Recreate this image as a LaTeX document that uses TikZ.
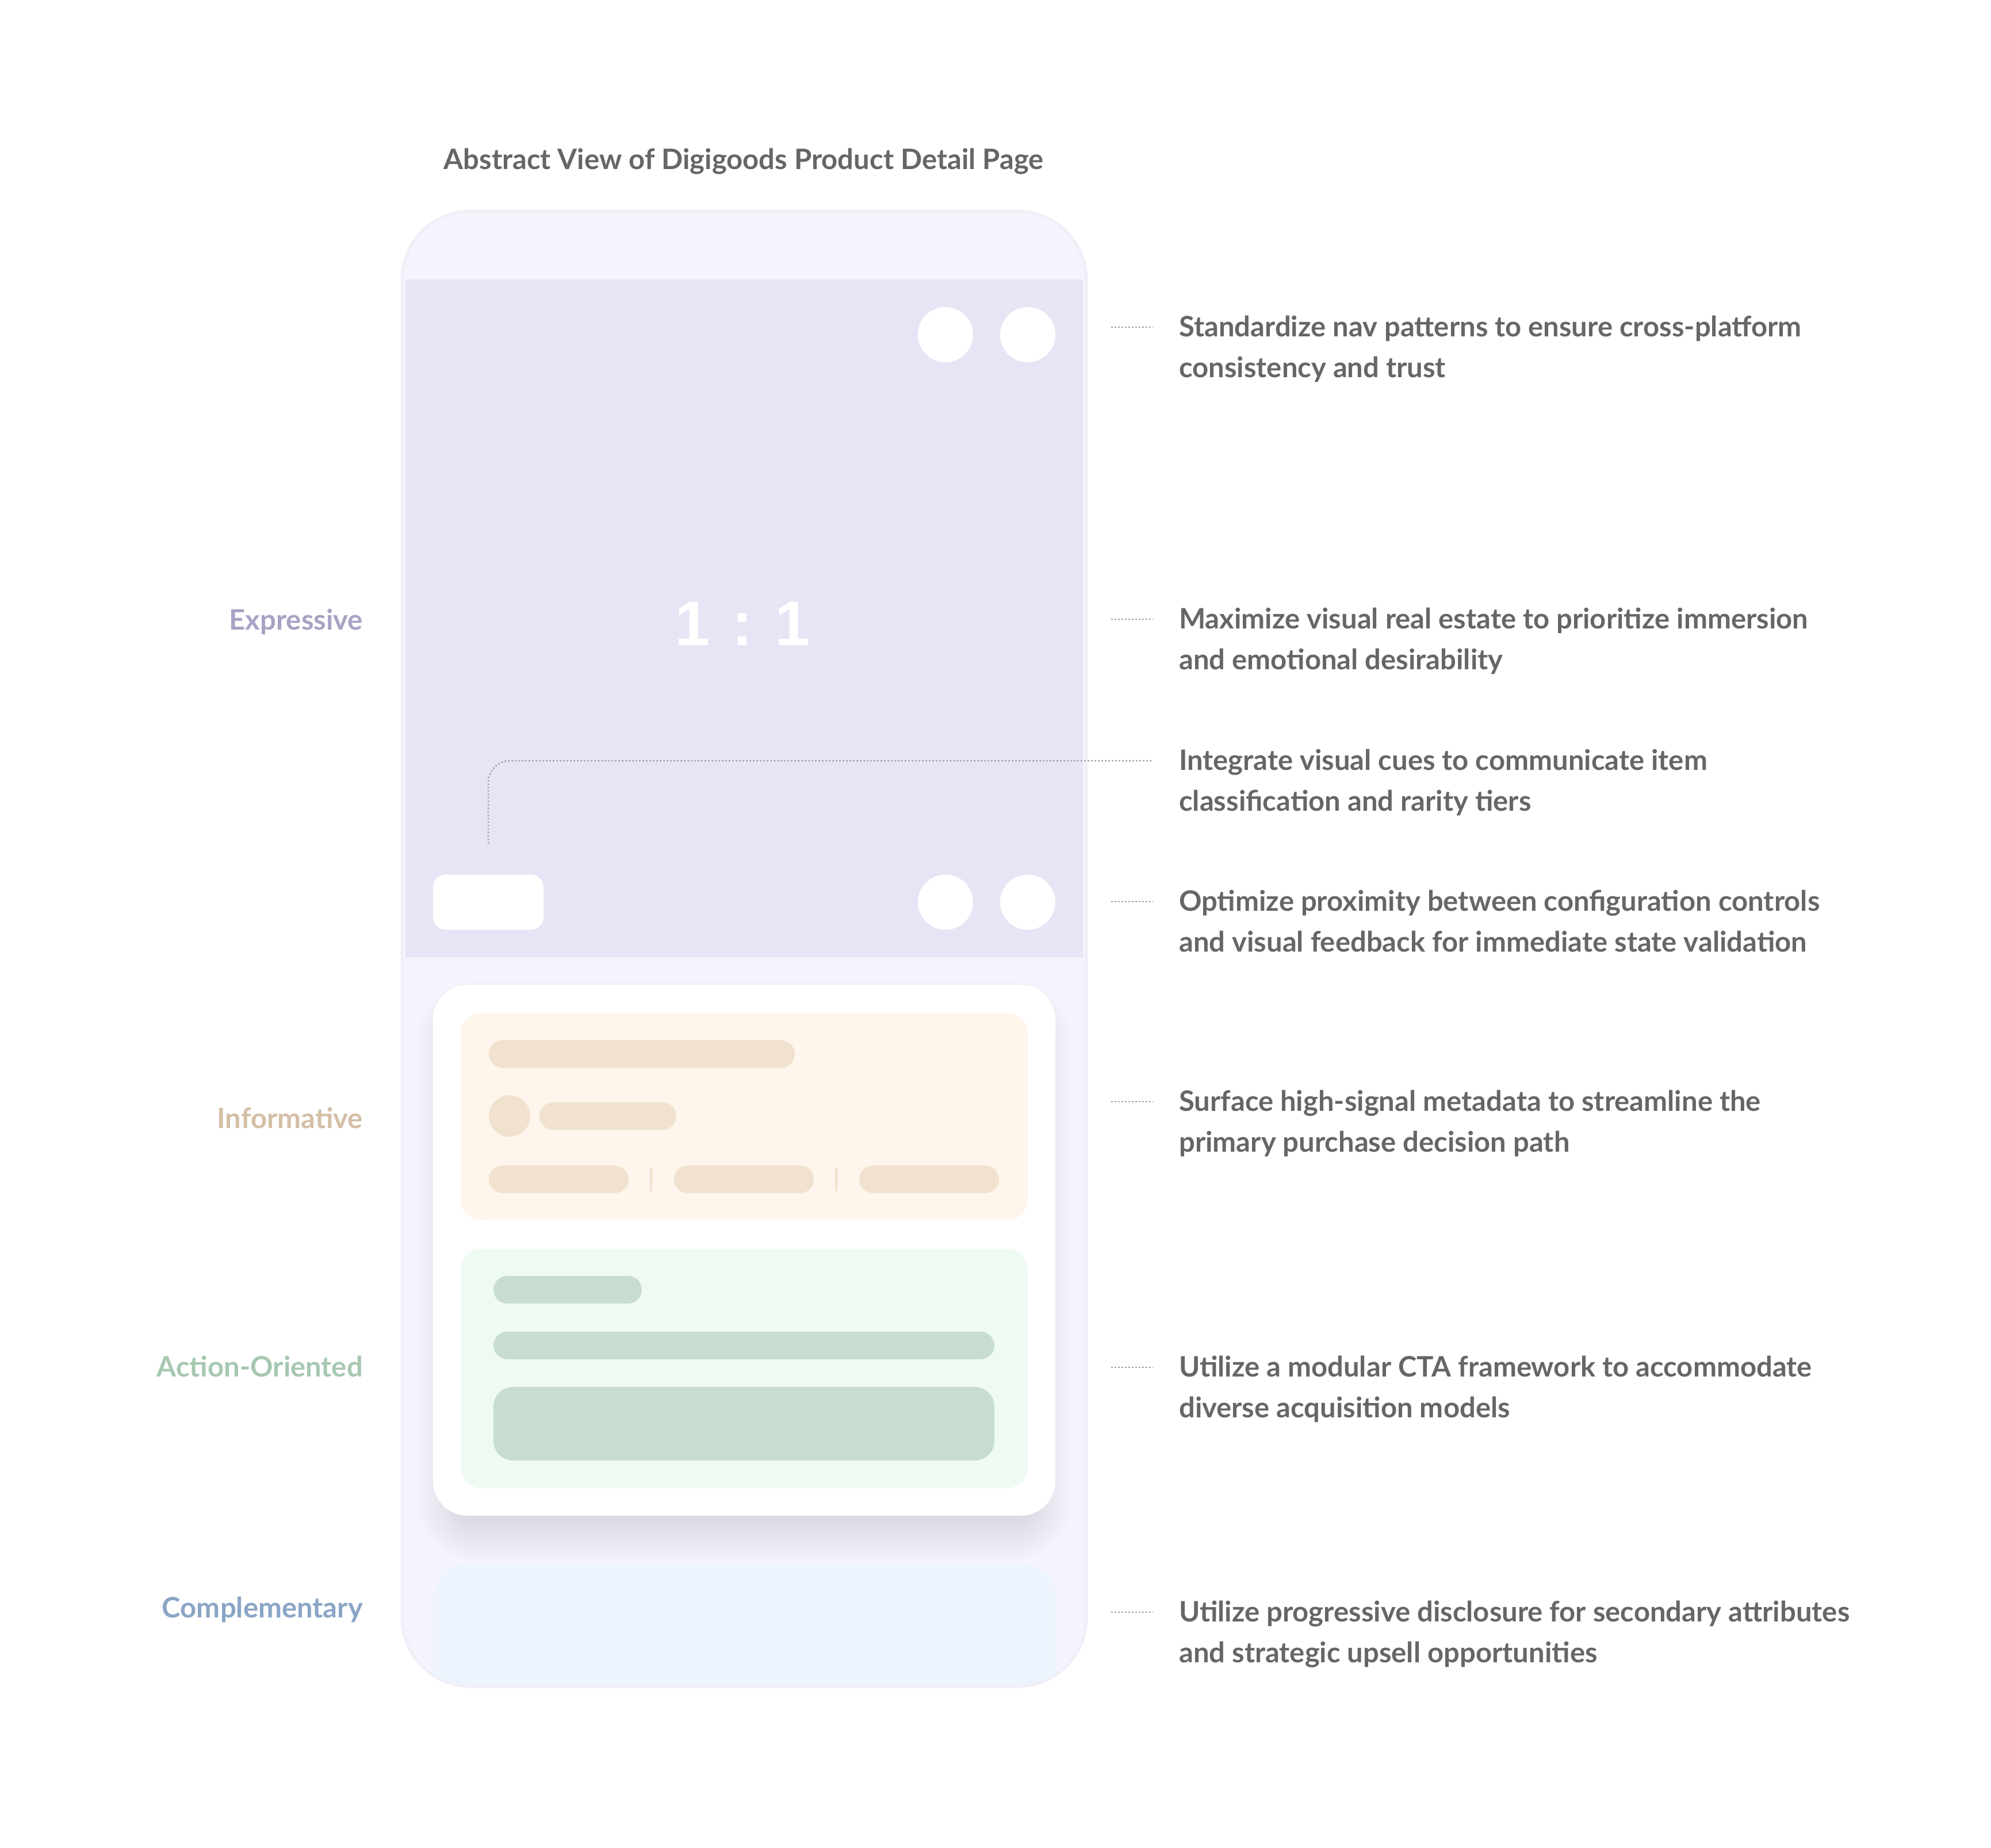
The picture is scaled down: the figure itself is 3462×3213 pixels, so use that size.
\documentclass[tikz,border=0pt]{standalone}
\usepackage{fontspec}
\setmainfont{Lato}
\newfontfamily\numfont{Liberation Sans}
\definecolor{txtgray}{HTML}{666666}
\definecolor{leadgray}{HTML}{9E9EA4}
\definecolor{phonebg}{HTML}{F5F4FD}
\definecolor{phoneline}{HTML}{F0EFF9}
\definecolor{hero}{HTML}{E7E4F5}
\definecolor{orpanel}{HTML}{FEF5EC}
\definecolor{orbar}{HTML}{F0E2CE}
\definecolor{grpanel}{HTML}{EFFAF2}
\definecolor{grbar}{HTML}{C8DDD2}
\definecolor{blpanel}{HTML}{EEF4FD}
\definecolor{cexp}{HTML}{A8A3C4}
\definecolor{cinf}{HTML}{D4BFA6}
\definecolor{cact}{HTML}{A6C8B0}
\definecolor{ccom}{HTML}{8AA5C5}
\begin{document}
\begin{tikzpicture}[x=1pt,y=-1pt,
  rtext/.style={font=\bfseries\fontsize{49}{71}\selectfont, text=txtgray, align=left, inner sep=0pt, anchor=base west},
  ltext/.style={font=\bfseries\fontsize{49}{56}\selectfont, inner sep=0pt, anchor=base east},
  leader/.style={draw=leadgray, line width=2.5pt, dash pattern=on 2.5pt off 3.5pt},
  wcirc/.style={fill=white},
  orpill/.style={fill=orbar, rounded corners=24pt},
  grpill/.style={fill=grbar, rounded corners=24pt}]
\useasboundingbox (0,0) rectangle (3462,3213);
\fill[white] (0,0) rectangle (3462,3213);

% title
\node[font=\bfseries\fontsize{49}{56}\selectfont, text=txtgray, inner sep=0pt, anchor=base] (title) at (1293,294) {Abstract View of Digigoods Product Detail Page};

% phone body
\path[fill=phonebg, rounded corners=120pt] (699,367) rectangle (1889,2933);
\begin{scope}
  \clip[rounded corners=120pt] (699,367) rectangle (1889,2933);
  % hero
  \fill[hero] (705,486) rectangle (1883,1665);
  % complementary panel
  \fill[blpanel, rounded corners=58pt] (753,2720) rectangle (1835,3100);
  % card shadow
  \foreach \e in {-30,-27,...,45} {
    \pgfmathsetmacro{\rr}{max(60+\e,5)}
    \fill[black, opacity=0.005, rounded corners=\rr pt] (769-\e,1749-\e) rectangle (1819+\e,2672+\e);
  }
\end{scope}
\draw[phoneline, line width=5pt, rounded corners=120pt] (699,367) rectangle (1889,2933);

% hero content
\fill[wcirc] (1644,582) circle (48);
\fill[wcirc] (1787,582) circle (48);
\fill[wcirc] (1644,1569) circle (48);
\fill[wcirc] (1787,1569) circle (48);
\fill[white, rounded corners=22pt] (753,1521) rectangle (945,1617);
\node[font=\numfont\bfseries\fontsize{110}{110}\selectfont, text=white, inner sep=0pt, anchor=base] (ratio) at (1291,1122) {1\hspace{0.35em}:\hspace{0.35em}1};

% white card
\fill[white, rounded corners=60pt] (753,1713) rectangle (1835,2636);
% informative panel
\fill[orpanel, rounded corners=36pt] (801,1762) rectangle (1787,2122);
\fill[orpill] (850,1809) rectangle (1382,1857);
\fill[orbar] (886,1941) circle (36);
\fill[orpill] (938,1917) rectangle (1176,1965);
\fill[orpill] (850,2027) rectangle (1093,2075);
\fill[orpill] (1172,2027) rectangle (1415,2075);
\fill[orpill] (1494,2027) rectangle (1737,2075);
\fill[orbar, rounded corners=2pt] (1130,2031) rectangle (1134,2072);
\fill[orbar, rounded corners=2pt] (1452,2031) rectangle (1456,2072);
% action panel
\fill[grpanel, rounded corners=36pt] (801,2172) rectangle (1787,2588);
\fill[grpill] (858,2219) rectangle (1116,2267);
\fill[grpill] (858,2316) rectangle (1729,2364);
\fill[grbar, rounded corners=34pt] (858,2412) rectangle (1729,2540);

% left labels
\node[ltext, text=cexp] (lexp) at (631,1095) {Expressive};
\node[ltext, text=cinf] (linf) at (631,1962) {Informative};
\node[ltext, text=cact] (lact) at (631,2394) {Action-Oriented};
\node[ltext, text=ccom] (lcom) at (631,2813) {Complementary};

% right annotations (anchor at baseline of last line)
\node[rtext] (t1) at (2050,656) {Standardize nav patterns to ensure cross-platform\\consistency and trust};
\node[rtext] (t2) at (2050,1164) {Maximize visual real estate to prioritize immersion\\and emotional desirability};
\node[rtext] (t3) at (2050,1410) {Integrate visual cues to communicate item\\classification and rarity tiers};
\node[rtext] (t4) at (2050,1655) {Optimize proximity between configuration controls\\and visual feedback for immediate state validation};
\node[rtext] (t5) at (2050,2003) {Surface high-signal metadata to streamline the\\primary purchase decision path};
\node[rtext] (t6) at (2050,2465) {Utilize a modular CTA framework to accommodate\\diverse acquisition models};
\node[rtext] (t7) at (2050,2891) {Utilize progressive disclosure for secondary attributes\\and strategic upsell opportunities};

% leaders
\coordinate (a1) at (1932,569);  \coordinate (b1) at (2005,569);
\coordinate (a2) at (1932,1077); \coordinate (b2) at (2005,1077);
\coordinate (a3) at (849,1467);  \coordinate (b3) at (2005,1323);
\coordinate (a4) at (1932,1568); \coordinate (b4) at (2005,1568);
\coordinate (a5) at (1932,1916); \coordinate (b5) at (2005,1916);
\coordinate (a6) at (1932,2378); \coordinate (b6) at (2005,2378);
\coordinate (a7) at (1932,2804); \coordinate (b7) at (2005,2804);
\draw[leader] (a1) -- (b1);
\draw[leader] (a2) -- (b2);
\draw[leader, rounded corners=38pt] (a3) |- (b3);
\draw[leader] (a4) -- (b4);
\draw[leader] (a5) -- (b5);
\draw[leader] (a6) -- (b6);
\draw[leader] (a7) -- (b7);
\end{tikzpicture}
\end{document}
